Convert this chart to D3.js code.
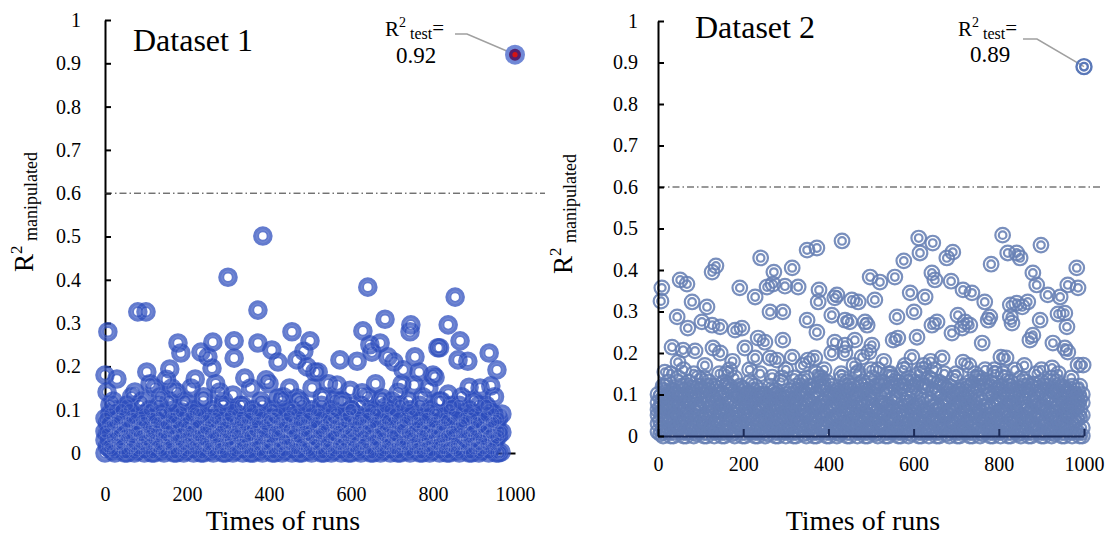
<!DOCTYPE html>
<html>
<head>
<meta charset="utf-8">
<script src="https://cdn.jsdelivr.net/npm/d3@7"></script>
<style>
  html, body { margin: 0; padding: 0; background: #fff; }
  svg { display: block; }
</style>
</head>
<body>
<div id="chart"></div>
<script>
// ---- data -------------------------------------------------------------
const xTickValues = [0, 200, 400, 600, 800, 1000];
const xTickLabels = ["0", "200", "400", "600", "800", "1000"];
const yTickValues = [0, 0.1, 0.2, 0.3, 0.4, 0.5, 0.6, 0.7, 0.8, 0.9, 1];
const yTickLabels = ["0", "0.1", "0.2", "0.3", "0.4", "0.5", "0.6", "0.7", "0.8", "0.9", "1"];
const thresholdR2 = 0.6;

// Dataset 1: scattered runs above the dense band, [run, R2]
const dataset1Upper = [
  [385,.501],[300,.406],[373,.33],[80,.326],[100,.326],[7,.28],[456,.28],[500,.259],
  [178,.254],[263,.256],[315,.259],[373,.254],[185,.231],[234,.233],[315,.219],[407,.238],
  [422,.21],[468,.215],[485,.235],[493,.199],[251,.222],[102,.187],[29,.171],[0,.18],
  [158,.194],[220,.171],[261,.196],[280,.141],[341,.173],[393,.169],[122,.15],[163,.15],
  [73,.141],[5,.141],[12,.111],[54,.111],[220,.092],[312,.134],[422,.127],[410,.081],
  [512,.187],[505,.15],[468,.127],[641,.383],[854,.36],[683,.309],[746,.296],[744,.28],
  [837,.296],[629,.282],[812,.243],[816,.243],[866,.259],[671,.254],[646,.25],[651,.233],
  [937,.231],[885,.212],[861,.215],[956,.192],[573,.215],[615,.212],[690,.222],[705,.21],
  [756,.222],[727,.192],[766,.187],[805,.175],[520,.187],[566,.157],[598,.145],[627,.139],
  [724,.159],[754,.157],[837,.136],[888,.152],[941,.155],[683,.106],[561,.122],[968,.09],
  [968,.048],[966,.002],[561,.065],[800,.18],[676,.127]
];
const dataset1Mid = [
  [20,.12],[40,.1],[65,.13],[90,.12],[110,.16],[135,.13],[150,.17],[175,.14],[195,.12],
  [210,.15],[240,.13],[270,.16],[290,.12],[330,.11],[355,.15],[380,.12],[400,.16],[435,.13],
  [450,.15],[475,.12],[530,.13],[545,.16],[580,.12],[600,.1],[640,.13],[660,.16],[700,.12],
  [715,.14],[740,.12],[775,.13],[790,.15],[820,.12],[845,.11],[870,.13],[900,.12],[915,.15],
  [930,.11],[950,.13]
];
// Dataset 1: dense band near zero, [run, [R2 values]]
const dataset1Dense = [
  [0,[.0,.03,.05,.08]],[12,[.01,.02,.06,.09]],[24,[.0,.04,.07,.1]],[36,[.02,.03,.05,.08]],
  [48,[.0,.04,.06,.09]],[60,[.01,.03,.07,.1]],[72,[.0,.02,.05,.08]],[84,[.01,.04,.06,.11]],
  [96,[.0,.03,.07,.09]],[108,[.02,.04,.05,.1]],[120,[.0,.03,.06,.08]],[132,[.01,.02,.07,.11]],
  [144,[.0,.04,.06,.09]],[156,[.02,.03,.05,.12]],[168,[.0,.04,.08,.1]],[180,[.01,.03,.06,.09]],
  [192,[.0,.02,.07,.11]],[204,[.01,.04,.05,.08]],[216,[.0,.03,.06,.1]],[228,[.02,.04,.07,.09]],
  [240,[.0,.03,.05,.12]],[252,[.01,.02,.06,.08]],[264,[.0,.04,.07,.1]],[276,[.01,.03,.05,.09]],
  [288,[.0,.02,.06,.11]],[300,[.02,.04,.07,.08]],[312,[.0,.03,.05,.1]],[324,[.01,.04,.06,.09]],
  [336,[.0,.02,.07,.11]],[348,[.01,.03,.05,.08]],[360,[.0,.04,.06,.1]],[372,[.02,.03,.07,.09]],
  [384,[.0,.04,.05,.11]],[396,[.01,.02,.06,.08]],[408,[.0,.03,.07,.1]],[420,[.01,.04,.05,.09]],
  [432,[.0,.02,.06,.12]],[444,[.02,.03,.07,.08]],[456,[.0,.04,.05,.1]],[468,[.01,.03,.06,.09]],
  [480,[.0,.02,.07,.11]],[492,[.01,.04,.05,.08]],[504,[.0,.03,.06,.1]],[516,[.02,.04,.07,.09]],
  [528,[.0,.03,.05,.11]],[540,[.01,.02,.06,.08]],[552,[.0,.04,.07,.1]],[564,[.01,.03,.05,.09]],
  [576,[.0,.02,.06,.12]],[588,[.02,.04,.07,.08]],[600,[.0,.03,.05,.1]],[612,[.01,.04,.06,.09]],
  [624,[.0,.02,.07,.11]],[636,[.01,.03,.05,.08]],[648,[.0,.04,.06,.1]],[660,[.02,.03,.07,.09]],
  [672,[.0,.04,.05,.12]],[684,[.01,.02,.06,.08]],[696,[.0,.03,.07,.1]],[708,[.01,.04,.05,.09]],
  [720,[.0,.02,.06,.11]],[732,[.02,.03,.07,.08]],[744,[.0,.04,.05,.1]],[756,[.01,.03,.06,.09]],
  [768,[.0,.02,.07,.11]],[780,[.01,.04,.05,.08]],[792,[.0,.03,.06,.1]],[804,[.02,.04,.07,.09]],
  [816,[.0,.03,.05,.12]],[828,[.01,.02,.06,.08]],[840,[.0,.04,.07,.1]],[852,[.01,.03,.05,.09]],
  [864,[.0,.02,.06,.11]],[876,[.02,.04,.07,.08]],[888,[.0,.03,.05,.1]],[900,[.01,.04,.06,.09]],
  [912,[.0,.02,.07,.11]],[924,[.01,.03,.05,.08]],[936,[.0,.04,.06,.1]],[948,[.02,.03,.07,.09]],
  [960,[.0,.04,.05,.08]]
];
const dataset1DenseB = [
  [6,[.015,.045,.07]],[18,[.005,.035,.065]],[30,[.02,.05,.075]],[42,[.01,.03,.06]],
  [54,[.0,.045,.07]],[66,[.015,.035,.08]],[78,[.005,.05,.065]],[90,[.02,.04,.075]],
  [102,[.01,.03,.06]],[114,[.0,.045,.08]],[126,[.015,.05,.07]],[138,[.005,.035,.09]],
  [150,[.02,.04,.065]],[162,[.01,.055,.08]],[174,[.0,.03,.07]],[186,[.015,.045,.095]],
  [198,[.005,.035,.06]],[210,[.02,.05,.085]],[222,[.01,.04,.07]],[234,[.0,.03,.09]],
  [246,[.015,.055,.075]],[258,[.005,.045,.065]],[270,[.02,.035,.08]],[282,[.01,.05,.07]],
  [294,[.0,.04,.06]],[306,[.015,.03,.085]],[318,[.005,.045,.07]],[330,[.02,.055,.075]],
  [342,[.01,.035,.065]],[354,[.0,.04,.08]],[366,[.015,.05,.07]],[378,[.005,.03,.09]],
  [390,[.02,.045,.065]],[402,[.01,.035,.075]],[414,[.0,.05,.08]],[426,[.015,.04,.07]],
  [438,[.005,.03,.06]],[450,[.02,.055,.085]],[462,[.01,.045,.07]],[474,[.0,.035,.075]],
  [486,[.015,.05,.065]],[498,[.005,.04,.08]],[510,[.02,.03,.07]],[522,[.01,.045,.09]],
  [534,[.0,.055,.065]],[546,[.015,.035,.075]],[558,[.005,.04,.08]],[570,[.02,.05,.07]],
  [582,[.01,.03,.06]],[594,[.0,.045,.085]],[606,[.015,.035,.07]],[618,[.005,.05,.075]],
  [630,[.02,.04,.065]],[642,[.01,.055,.08]],[654,[.0,.03,.07]],[666,[.015,.045,.09]],
  [678,[.005,.035,.065]],[690,[.02,.05,.075]],[702,[.01,.04,.07]],[714,[.0,.03,.08]],
  [726,[.015,.055,.065]],[738,[.005,.045,.075]],[750,[.02,.035,.085]],[762,[.01,.05,.07]],
  [774,[.0,.04,.06]],[786,[.015,.03,.08]],[798,[.005,.045,.07]],[810,[.02,.055,.09]],
  [822,[.01,.035,.065]],[834,[.0,.04,.075]],[846,[.015,.05,.07]],[858,[.005,.03,.085]],
  [870,[.02,.045,.065]],[882,[.01,.035,.075]],[894,[.0,.05,.08]],[906,[.015,.04,.07]],
  [918,[.005,.03,.06]],[930,[.02,.055,.085]],[942,[.01,.045,.07]],[954,[.0,.035,.075]]
];
const dataset1Test = [1000, 0.92];

// Dataset 2: scattered runs above the dense band, [run, R2]
const dataset2Upper = [
  [809,.484],[612,.477],[645,.465],[899,.46],[821,.441],[842,.441],[850,.429],[615,.441],
  [692,.443],[678,.429],[577,.422],[782,.414],[983,.405],[498,.383],[556,.383],[643,.393],
  [650,.376],[688,.373],[521,.371],[880,.393],[889,.364],[962,.364],[986,.357],[915,.34],
  [592,.345],[627,.335],[716,.352],[737,.345],[767,.323],[827,.316],[842,.32],[855,.311],
  [868,.323],[944,.335],[509,.328],[939,.294],[955,.296],[486,.275],[561,.287],[601,.299],
  [643,.267],[655,.275],[704,.291],[721,.275],[779,.287],[775,.279],[827,.287],[831,.272],
  [897,.279],[960,.263],[491,.267],[563,.236],[552,.231],[608,.238],[690,.248],[714,.26],
  [732,.267],[761,.224],[873,.231],[880,.243],[927,.224],[955,.212],[962,.202],[596,.19],
  [502,.219],[495,.202],[805,.19],[817,.188],[716,.178],[986,.171],[998,.171],[838,.159],
  [925,.164],[667,.188],[432,.47],[350,.448],[373,.453],[241,.429],[127,.395],[136,.41],
  [315,.405],[272,.395],[9,.357],[7,.325],[52,.376],[68,.366],[192,.357],[228,.335],
  [256,.359],[270,.366],[298,.361],[329,.359],[378,.352],[376,.323],[420,.34],[415,.333],
  [455,.328],[470,.323],[80,.323],[115,.311],[263,.299],[293,.299],[45,.287],[350,.279],
  [408,.291],[439,.279],[450,.275],[70,.26],[103,.275],[127,.267],[146,.263],[181,.255],
  [197,.26],[235,.236],[251,.226],[293,.231],[373,.25],[415,.226],[439,.219],[462,.231],
  [33,.214],[59,.207],[87,.205],[129,.212],[146,.2],[204,.212],[228,.188],[263,.188],
  [279,.183],[315,.19],[352,.183],[368,.188],[408,.2],[439,.2],[479,.19],[16,.154],
  [47,.178],[268,.142],[291,.14],[380,.14],[470,.154],[0,.063],[16,.118]
];
const dataset2Mid = [
  [30,.15],[60,.16],[95,.14],[110,.17],[160,.15],[175,.18],[215,.16],[240,.15],[300,.16],
  [320,.14],[340,.17],[390,.16],[430,.15],[460,.17],[500,.16],[530,.18],[545,.15],[580,.17],
  [620,.16],[640,.18],[700,.15],[730,.17],[750,.14],[790,.16],[810,.15],[860,.17],[900,.16],
  [940,.15],[970,.14],[990,.12]
];
// Dataset 2: dense band near zero, [run, [R2 values]]
const dataset2Dense = [
  [0,[.01,.03,.05,.08,.1]],[12,[.0,.02,.06,.09,.12]],[24,[.01,.04,.07,.1,.13]],[36,[.0,.03,.05,.08,.11]],
  [48,[.02,.04,.07,.1,.14]],[60,[.0,.03,.06,.09,.12]],[72,[.01,.05,.08,.11,.13]],[84,[.0,.02,.06,.1,.15]],
  [96,[.01,.04,.07,.09,.12]],[108,[.0,.03,.05,.1,.14]],[120,[.02,.04,.08,.11,.13]],[132,[.0,.03,.06,.09,.12]],
  [144,[.01,.05,.07,.1,.15]],[156,[.0,.02,.06,.11,.13]],[168,[.01,.04,.08,.12,.16]],[180,[.0,.03,.05,.09,.14]],
  [192,[.02,.04,.07,.1,.12]],[204,[.0,.03,.06,.09,.11]],[216,[.01,.05,.08,.1,.13]],[228,[.0,.02,.06,.09,.12]],
  [240,[.01,.04,.07,.1,.11]],[252,[.0,.03,.05,.08,.1]],[264,[.02,.04,.06,.09,.12]],[276,[.0,.03,.07,.1,.11]],
  [288,[.01,.05,.08,.09,.13]],[300,[.0,.02,.04,.07,.1]],[312,[.01,.03,.06,.08,.11]],[324,[.0,.04,.05,.09,.12]],
  [336,[.02,.03,.07,.1,.13]],[348,[.0,.05,.08,.11,.14]],[360,[.01,.03,.06,.09,.12]],[372,[.0,.04,.07,.1,.15]],
  [384,[.02,.05,.08,.12,.14]],[396,[.0,.03,.06,.09,.13]],[408,[.01,.04,.07,.1,.12]],[420,[.0,.02,.05,.09,.11]],
  [432,[.01,.04,.08,.1,.14]],[444,[.0,.03,.06,.11,.13]],[456,[.02,.05,.07,.09,.12]],[468,[.0,.03,.06,.1,.15]],
  [480,[.01,.04,.08,.11,.13]],[492,[.0,.02,.05,.09,.12]],[504,[.01,.04,.07,.1,.14]],[516,[.0,.03,.06,.12,.16]],
  [528,[.02,.05,.08,.1,.13]],[540,[.0,.03,.07,.11,.15]],[552,[.01,.04,.06,.09,.14]],[564,[.0,.02,.05,.1,.13]],
  [576,[.01,.04,.08,.12,.16]],[588,[.0,.03,.06,.09,.14]],[600,[.02,.05,.07,.11,.13]],[612,[.0,.03,.08,.1,.15]],
  [624,[.01,.04,.06,.12,.17]],[636,[.0,.02,.05,.09,.14]],[648,[.01,.04,.07,.11,.16]],[660,[.0,.03,.06,.1,.13]],
  [672,[.02,.05,.08,.12,.15]],[684,[.0,.03,.06,.09,.12]],[696,[.01,.04,.07,.1,.14]],[708,[.0,.02,.05,.08,.11]],
  [720,[.01,.04,.06,.09,.12]],[732,[.0,.03,.07,.1,.13]],[744,[.02,.05,.08,.11,.15]],[756,[.0,.03,.06,.09,.14]],
  [768,[.01,.04,.07,.12,.16]],[780,[.0,.02,.05,.1,.13]],[792,[.01,.04,.08,.11,.15]],[804,[.0,.03,.06,.09,.12]],
  [816,[.02,.05,.07,.1,.14]],[828,[.0,.03,.08,.12,.13]],[840,[.01,.04,.06,.09,.11]],[852,[.0,.02,.05,.1,.14]],
  [864,[.01,.04,.07,.11,.13]],[876,[.0,.03,.06,.09,.12]],[888,[.02,.05,.08,.1,.15]],[900,[.0,.03,.07,.11,.13]],
  [912,[.01,.04,.06,.09,.12]],[924,[.0,.02,.05,.1,.14]],[936,[.01,.04,.08,.11,.13]],[948,[.0,.03,.06,.09,.12]],
  [960,[.02,.05,.07,.1,.11]],[972,[.0,.03,.06,.08,.12]],[984,[.01,.04,.07,.09,.11]],[996,[.0,.02,.05,.08,.1]]
];
const dataset2DenseB = [
  [6,[.005,.035,.065,.095]],[18,[.015,.045,.075,.105]],[30,[.0,.04,.07,.11]],[42,[.02,.05,.08,.1]],
  [54,[.01,.035,.075,.12]],[66,[.0,.045,.065,.1]],[78,[.02,.04,.085,.115]],[90,[.005,.055,.07,.1]],
  [102,[.015,.03,.075,.11]],[114,[.0,.045,.09,.12]],[126,[.02,.05,.065,.1]],[138,[.01,.035,.08,.115]],
  [150,[.0,.055,.07,.1]],[162,[.02,.04,.085,.125]],[174,[.005,.045,.075,.11]],[186,[.015,.03,.065,.1]],
  [198,[.0,.05,.08,.115]],[210,[.02,.035,.07,.1]],[222,[.01,.045,.085,.11]],[234,[.0,.055,.065,.095]],
  [246,[.015,.04,.075,.1]],[258,[.005,.03,.07,.09]],[270,[.02,.045,.08,.105]],[282,[.0,.035,.065,.1]],
  [294,[.01,.05,.075,.095]],[306,[.02,.04,.06,.09]],[318,[.0,.045,.07,.1]],[330,[.015,.035,.08,.11]],
  [342,[.005,.055,.065,.105]],[354,[.02,.04,.085,.12]],[366,[.0,.045,.075,.11]],[378,[.01,.03,.07,.125]],
  [390,[.015,.05,.08,.115]],[402,[.0,.035,.065,.1]],[414,[.02,.045,.075,.105]],[426,[.005,.04,.07,.095]],
  [438,[.015,.055,.085,.12]],[450,[.0,.03,.065,.11]],[462,[.02,.045,.08,.1]],[474,[.01,.035,.075,.125]],
  [486,[.0,.05,.07,.11]],[498,[.015,.04,.085,.105]],[510,[.005,.045,.065,.12]],[522,[.02,.035,.08,.13]],
  [534,[.0,.055,.075,.11]],[546,[.01,.04,.07,.125]],[558,[.02,.045,.085,.115]],[570,[.0,.03,.065,.12]],
  [582,[.015,.05,.08,.13]],[594,[.005,.04,.075,.115]],[606,[.02,.035,.07,.125]],[618,[.0,.045,.085,.13]],
  [630,[.01,.055,.065,.12]],[642,[.015,.04,.08,.135]],[654,[.0,.035,.075,.115]],[666,[.02,.045,.07,.125]],
  [678,[.005,.05,.085,.11]],[690,[.015,.03,.065,.1]],[702,[.0,.045,.08,.11]],[714,[.02,.04,.075,.1]],
  [726,[.01,.055,.07,.115]],[738,[.0,.035,.085,.125]],[750,[.015,.045,.065,.12]],[762,[.005,.04,.08,.13]],
  [774,[.02,.05,.075,.115]],[786,[.0,.035,.07,.125]],[798,[.01,.045,.085,.11]],[810,[.015,.03,.065,.105]],
  [822,[.0,.055,.08,.12]],[834,[.02,.04,.075,.1]],[846,[.005,.045,.07,.115]],[858,[.015,.035,.085,.12]],
  [870,[.0,.05,.065,.11]],[882,[.02,.04,.08,.125]],[894,[.01,.045,.075,.115]],[906,[.0,.03,.07,.105]],
  [918,[.015,.055,.085,.12]],[930,[.005,.04,.065,.11]],[942,[.02,.035,.08,.1]],[954,[.0,.045,.075,.115]],
  [966,[.01,.05,.07,.105]],[978,[.015,.035,.085,.1]],[990,[.0,.045,.065,.09]]
];
const dataset2Test = [1000, 0.89];

// ---- helpers ----------------------------------------------------------
const serif = "'Liberation Serif','Times New Roman',Times,serif";
const flatten = (dense) => dense.flatMap(([run, vals]) => vals.map(v => [run, v]));

const W = 1107, H = 536;
const svg = d3.select("#chart").append("svg")
  .attr("width", W).attr("height", H)
  .attr("font-family", serif);

function yTitle(x, cy) {
  const t = svg.append("text")
    .attr("transform", `translate(${x},${cy}) rotate(-90)`)
    .attr("text-anchor", "middle")
    .attr("fill", "#000");
  t.append("tspan").attr("font-size", 27).text("R");
  t.append("tspan").attr("font-size", 17).attr("dy", -11).text("2");
  t.append("tspan").attr("font-size", 18).attr("dy", 15).text(" manipulated");
}

function testLabel(x, y, valueText, vx, vy) {
  const t = svg.append("text").attr("x", x).attr("y", y).attr("fill", "#000");
  t.append("tspan").attr("font-size", 21).text("R");
  t.append("tspan").attr("font-size", 14).attr("dy", -9).text("2");
  t.append("tspan").attr("font-size", 16).attr("dy", 12).text(" test");
  t.append("tspan").attr("font-size", 21).attr("dy", -4).text("=");
  svg.append("text").attr("x", vx).attr("y", vy)
    .attr("font-size", 23).attr("fill", "#000").text(valueText);
}

function thresholdLine(x0, x1, y) {
  svg.append("line")
    .attr("x1", x0).attr("x2", x1).attr("y1", y).attr("y2", y)
    .attr("stroke", "#333").attr("stroke-width", 1)
    .attr("stroke-dasharray", "7,3,1.5,3");
}

function styleAxis(g, color, width) {
  g.attr("font-family", serif);
  g.selectAll(".domain").attr("stroke", color).attr("stroke-width", width);
  g.selectAll(".tick line").attr("stroke", color).attr("stroke-width", width);
  g.selectAll(".tick text").attr("font-family", serif).attr("font-size", 20).attr("fill", "#000");
}

// ---- panel 1 ----------------------------------------------------------
{
  const x = d3.scaleLinear().domain([0, 1000]).range([105, 515]);
  const y = d3.scaleLinear().domain([0, 1]).range([453, 20]);

  const xa = svg.append("g").attr("transform", `translate(0,${y(0)})`)
    .call(d3.axisBottom(x).tickValues(xTickValues).tickFormat((d, i) => xTickLabels[i])
      .tickSizeInner(0).tickSizeOuter(0).tickPadding(34));
  styleAxis(xa, "#000", 2);

  const ya = svg.append("g").attr("transform", `translate(${x(0)},0)`)
    .call(d3.axisLeft(y).tickValues(yTickValues).tickFormat((d, i) => yTickLabels[i])
      .tickSizeInner(-6).tickSizeOuter(0).tickPadding(24));
  styleAxis(ya, "#000", 2);

  thresholdLine(x(0), 545, y(thresholdR2));

  const pts = [...flatten(dataset1Dense), ...flatten(dataset1DenseB), ...dataset1Mid, ...dataset1Upper];
  const dots = svg.append("g");
  dots.selectAll("circle.ring").data(pts).join("circle")
    .attr("class", "ring")
    .attr("cx", d => x(d[0])).attr("cy", d => y(d[1])).attr("r", 6.8)
    .attr("fill", "none").attr("stroke", "#2d4dbd")
    .attr("stroke-width", 6).attr("stroke-opacity", 0.74);
  dots.selectAll("circle.sheen").data(pts).join("circle")
    .attr("class", "sheen")
    .attr("cx", d => x(d[0])).attr("cy", d => y(d[1])).attr("r", 6.2)
    .attr("fill", "none").attr("stroke", "#ffffff")
    .attr("stroke-width", 1).attr("stroke-opacity", 0.13);

  // highlighted test run
  const tx = x(dataset1Test[0]), ty = y(dataset1Test[1]);
  svg.append("polyline")
    .attr("points", `455,34 467,34 ${tx},${ty}`)
    .attr("fill", "none").attr("stroke", "#a0a0a0").attr("stroke-width", 1.6);
  svg.append("circle").attr("cx", tx).attr("cy", ty).attr("r", 10).attr("fill", "#7088d6");
  svg.append("circle").attr("cx", tx).attr("cy", ty).attr("r", 6).attr("fill", "#52206e");
  svg.append("circle").attr("cx", tx).attr("cy", ty).attr("r", 2.6).attr("fill", "#d41414");
  testLabel(385, 36, d3.format(".2f")(dataset1Test[1]), 396, 63);

  svg.append("text").attr("x", 133).attr("y", 51)
    .attr("font-size", 32).attr("fill", "#000").text("Dataset 1");
  yTitle(33, 212);
  svg.append("text").attr("x", 283).attr("y", 530).attr("text-anchor", "middle")
    .attr("font-size", 28).attr("fill", "#000").text("Times of runs");
}

// ---- panel 2 ----------------------------------------------------------
{
  const x = d3.scaleLinear().domain([0, 1000]).range([658, 1084]);
  const y = d3.scaleLinear().domain([0, 1]).range([436, 21]);

  thresholdLine(x(0), 1100, y(thresholdR2));

  const pts = [...flatten(dataset2Dense), ...flatten(dataset2DenseB), ...dataset2Mid, ...dataset2Upper];
  const dots = svg.append("g")
    .attr("fill", "none").attr("stroke", "#6680b4")
    .attr("stroke-width", 2.2).attr("stroke-opacity", 0.88);
  const g = dots.selectAll("g").data(pts).join("g")
    .attr("transform", d => `translate(${x(d[0])},${y(d[1])})`);
  g.append("circle").attr("r", 7.3);
  g.append("circle").attr("r", 3.8);

  const tx = x(dataset2Test[0]), ty = y(dataset2Test[1]);
  svg.append("polyline")
    .attr("points", `1023,39 1037,39 ${tx},${ty}`)
    .attr("fill", "none").attr("stroke", "#a0a0a0").attr("stroke-width", 1.6);
  const tg = svg.append("g").attr("transform", `translate(${tx},${ty})`)
    .attr("fill", "none").attr("stroke", "#5a78b8").attr("stroke-width", 2.4);
  tg.append("circle").attr("r", 7.5);
  tg.append("circle").attr("r", 3.8);
  testLabel(958, 36, d3.format(".2f")(dataset2Test[1]), 970, 62);

  const xa = svg.append("g").attr("transform", `translate(0,${y(0)})`)
    .call(d3.axisBottom(x).tickValues(xTickValues).tickFormat((d, i) => xTickLabels[i])
      .tickSizeInner(-7).tickSizeOuter(0).tickPadding(21));
  styleAxis(xa, "#1c2b58", 2);

  const ya = svg.append("g").attr("transform", `translate(${x(0)},0)`)
    .call(d3.axisLeft(y).tickValues(yTickValues).tickFormat((d, i) => yTickLabels[i])
      .tickSizeInner(-6).tickSizeOuter(0).tickPadding(20));
  styleAxis(ya, "#000", 2);

  svg.append("text").attr("x", 695).attr("y", 38)
    .attr("font-size", 32).attr("fill", "#000").text("Dataset 2");
  yTitle(572, 214);
  svg.append("text").attr("x", 863).attr("y", 530).attr("text-anchor", "middle")
    .attr("font-size", 28).attr("fill", "#000").text("Times of runs");
}
</script>
</body>
</html>
